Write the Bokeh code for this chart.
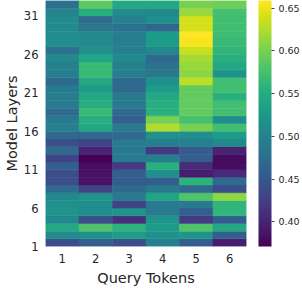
from bokeh.plotting import figure
from bokeh.models import LinearColorMapper, ColorBar, FixedTicker, ColumnDataSource, PrintfTickFormatter
from bokeh.palettes import Viridis256
from bokeh.embed import file_html
from bokeh.resources import INLINE

tokens = [1, 2, 3, 4, 5, 6]
layers = list(range(1, 33))
# values[layer-1] = [token1..token6]
values = [
    [0.440, 0.457, 0.440, 0.495, 0.457, 0.393],  # 1
    [0.508, 0.515, 0.530, 0.515, 0.520, 0.457],  # 2
    [0.545, 0.580, 0.557, 0.530, 0.580, 0.545],  # 3
    [0.508, 0.440, 0.410, 0.520, 0.420, 0.457],  # 4
    [0.520, 0.515, 0.520, 0.490, 0.457, 0.560],  # 5
    [0.515, 0.512, 0.430, 0.490, 0.490, 0.560],  # 6
    [0.508, 0.520, 0.490, 0.540, 0.580, 0.610],  # 7
    [0.470, 0.430, 0.470, 0.490, 0.470, 0.440],  # 8
    [0.440, 0.385, 0.457, 0.457, 0.557, 0.470],  # 9
    [0.440, 0.385, 0.457, 0.515, 0.393, 0.405],  # 10
    [0.457, 0.380, 0.420, 0.553, 0.405, 0.380],  # 11
    [0.430, 0.372, 0.490, 0.495, 0.457, 0.380],  # 12
    [0.470, 0.400, 0.490, 0.420, 0.455, 0.400],  # 13
    [0.440, 0.430, 0.490, 0.495, 0.495, 0.508],  # 14
    [0.470, 0.470, 0.470, 0.515, 0.512, 0.530],  # 15
    [0.497, 0.545, 0.490, 0.625, 0.600, 0.572],  # 16
    [0.490, 0.553, 0.457, 0.600, 0.575, 0.512],  # 17
    [0.470, 0.565, 0.470, 0.553, 0.590, 0.572],  # 18
    [0.490, 0.550, 0.490, 0.553, 0.590, 0.572],  # 19
    [0.495, 0.545, 0.490, 0.545, 0.590, 0.553],  # 20
    [0.490, 0.530, 0.470, 0.530, 0.590, 0.572],  # 21
    [0.470, 0.545, 0.470, 0.515, 0.630, 0.572],  # 22
    [0.495, 0.565, 0.495, 0.487, 0.610, 0.520],  # 23
    [0.495, 0.565, 0.495, 0.480, 0.615, 0.545],  # 24
    [0.508, 0.540, 0.508, 0.470, 0.620, 0.553],  # 25
    [0.480, 0.515, 0.495, 0.505, 0.635, 0.560],  # 26
    [0.512, 0.507, 0.495, 0.530, 0.655, 0.565],  # 27
    [0.512, 0.507, 0.495, 0.530, 0.659, 0.570],  # 28
    [0.510, 0.485, 0.478, 0.468, 0.640, 0.572],  # 29
    [0.510, 0.472, 0.497, 0.515, 0.640, 0.572],  # 30
    [0.500, 0.553, 0.510, 0.505, 0.616, 0.573],  # 31
    [0.478, 0.587, 0.545, 0.545, 0.600, 0.595],  # 32
]
y_tick_labels = ["1", "6", "11", "16", "21", "26", "31"]
cbar_ticks = [0.40, 0.45, 0.50, 0.55, 0.60, 0.65]
vmin, vmax = 0.371, 0.659

xs, ys, vs = [], [], []
for li, row in zip(layers, values):
    for t, v in zip(tokens, row):
        xs.append(t)
        ys.append(li)
        vs.append(v)
src = ColumnDataSource(dict(x=xs, y=ys, v=vs))

mapper = LinearColorMapper(palette=Viridis256, low=vmin, high=vmax)
FONT = "DejaVu Sans"
TXT = "#262626"

p = figure(frame_width=201, frame_height=246, output_backend="svg", toolbar_location=None,
           x_range=(0.5, 6.5), y_range=(0.5, 32.5), min_border_top=0, min_border_left=0,
           min_border_bottom=0, min_border_right=0)
p.rect(x="x", y="y", width=1, height=1, source=src,
       fill_color={"field": "v", "transform": mapper},
       line_color={"field": "v", "transform": mapper}, line_width=0.5)

p.xaxis.ticker = FixedTicker(ticks=tokens)
ytick_pos = [int(s) - 0.5 for s in y_tick_labels]
p.yaxis.ticker = FixedTicker(ticks=ytick_pos)
p.yaxis.major_label_overrides = {pos: lab for pos, lab in zip(ytick_pos, y_tick_labels)}
p.xaxis.axis_label = "Query Tokens"
p.yaxis.axis_label = "Model Layers"
for ax in (p.xaxis, p.yaxis):
    ax.axis_line_color = None
    ax.major_tick_line_color = None
    ax.minor_tick_line_color = None
    ax.major_tick_out = 0
    ax.major_tick_in = 0
    ax.major_label_text_font = FONT
    ax.major_label_text_font_size = "11.5px"
    ax.major_label_text_color = TXT
    ax.axis_label_text_font = FONT
    ax.axis_label_text_font_size = "14.5px"
    ax.axis_label_text_font_style = "normal"
    ax.axis_label_text_color = TXT
p.xaxis.major_label_standoff = 7
p.xaxis.axis_label_standoff = 4
p.yaxis.major_label_standoff = 7
p.yaxis.axis_label_standoff = 1
p.grid.visible = False
p.outline_line_color = None

cb = ColorBar(color_mapper=mapper, width=13, padding=0, margin=0, location=(12, 0),
              ticker=FixedTicker(ticks=cbar_ticks),
              formatter=PrintfTickFormatter(format="%.2f"),
              major_tick_in=0, major_tick_out=3, major_tick_line_color="#444444",
              minor_tick_line_color=None, bar_line_color=None, border_line_color=None,
              label_standoff=4, major_label_text_font=FONT,
              major_label_text_font_size="9.5px", major_label_text_color=TXT)
p.add_layout(cb, "right")

open("out.html", "w").write(file_html(p, INLINE))
